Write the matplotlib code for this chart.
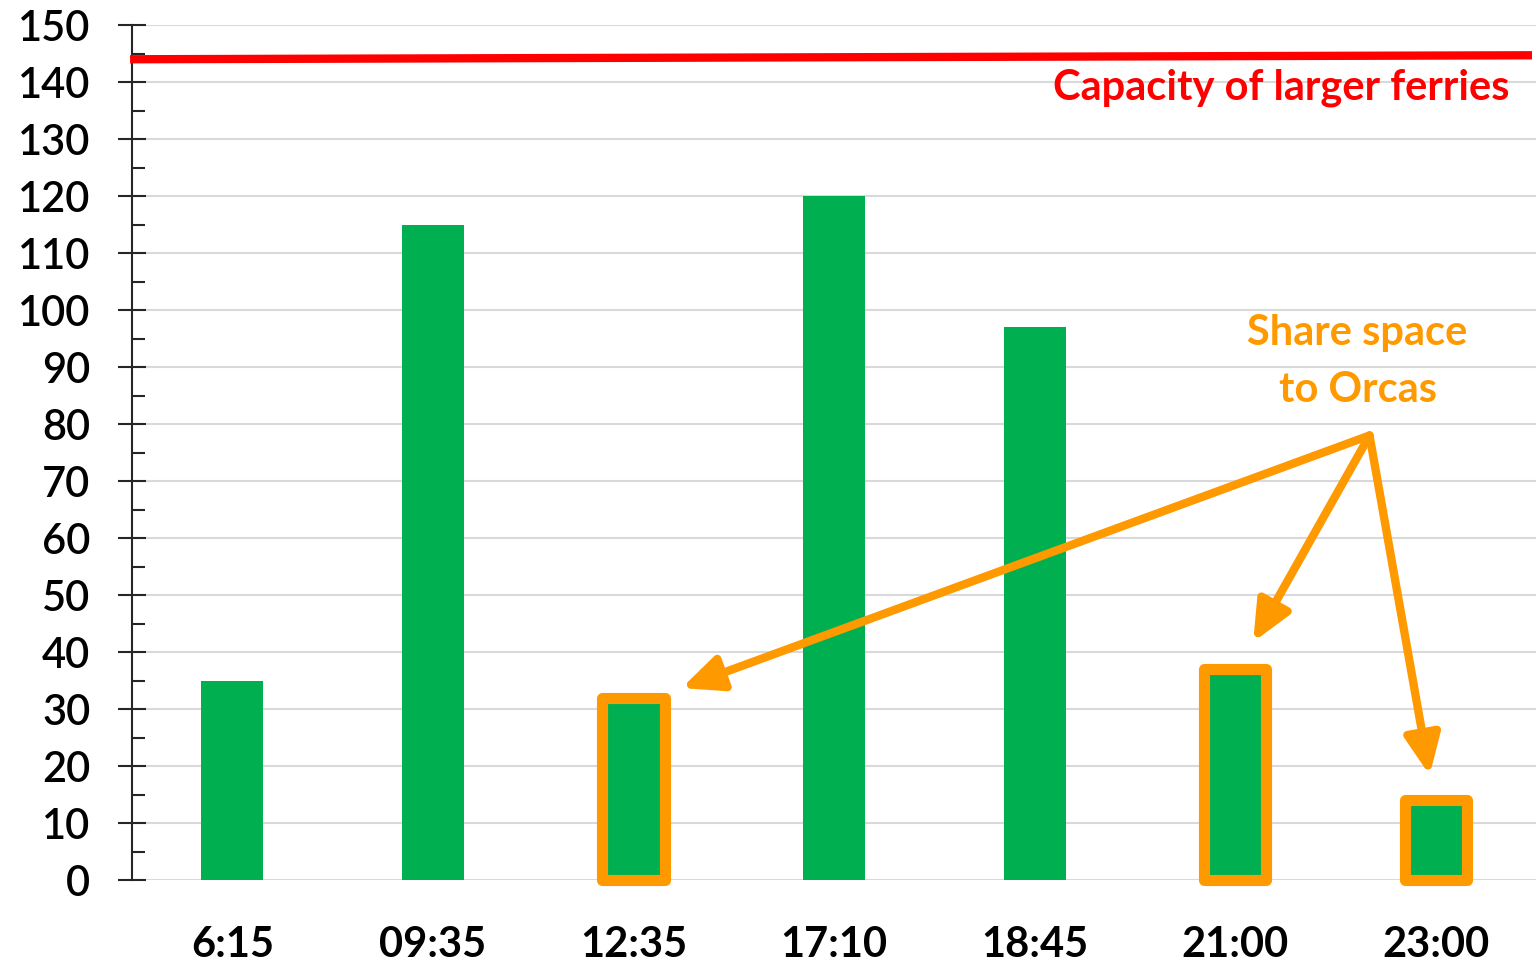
import matplotlib
matplotlib.use("Agg")
import matplotlib.pyplot as plt
from matplotlib.ticker import MultipleLocator

# sailing times and vehicle counts
times = ["6:15", "09:35", "12:35", "17:10", "18:45", "21:00", "23:00"]
vehicles = [35, 115, 32, 120, 97, 37, 14]
shared = ["12:35", "21:00", "23:00"]  # sailings that share space with Orcas
capacity_start = 144
capacity_end = 144.7

green = "#00B050"
orange = "#FF9900"
red = "#FF0000"

plt.rcParams["font.family"] = ["Lato", "DejaVu Sans"]

fig = plt.figure(figsize=(15.36, 9.64), dpi=100)
ax = fig.add_axes([0.086, 0.087, 0.914, 0.887])

x = list(range(len(times)))
bars = ax.bar(x, vehicles, width=0.31, color=green, zorder=2)
for b, t in zip(bars, times):
    if t in shared:
        b.set_edgecolor(orange)
        b.set_linewidth(8)
        b.set_joinstyle("round")
        b.set_clip_on(False)
        b.set_zorder(3)

# capacity line
ax.plot([-0.51, len(times) - 0.52], [capacity_start, capacity_end], color=red, lw=6,
        solid_capstyle="butt", clip_on=False, zorder=4)
ax.text(6.37, 139, "Capacity of larger ferries", color=red, fontsize=30,
        fontweight="bold", ha="right", va="center")

# arrows to the shared sailings
ax.text(5.61, 91, "Share space\nto Orcas", color=orange, fontsize=30, fontweight="bold",
        ha="center", va="center", linespacing=1.6)
src = (5.67, 78)
targets = [(2.24, 33.7), (5.09, 41.8), (5.97, 18.4)]
for tx, ty in targets:
    ax.annotate("", xy=(tx, ty), xytext=src,
                arrowprops=dict(arrowstyle="-|>,head_length=0.6,head_width=0.27", lw=6,
                                color=orange, mutation_scale=40, shrinkA=0, shrinkB=0),
                zorder=5)

ax.set_xlim(-0.5, len(times) - 0.5)
ax.set_ylim(0, 150)
ax.set_xticks(x)
ax.set_xticklabels(times, fontsize=30, fontweight="bold")
ax.tick_params(axis="x", length=0, pad=33)
ax.yaxis.set_major_locator(MultipleLocator(10))
ax.yaxis.set_minor_locator(MultipleLocator(5))
ax.tick_params(axis="y", which="major", direction="inout", length=20, width=1.5,
               labelsize=30, pad=20, color="#262626")
ax.tick_params(axis="y", which="minor", direction="in", length=9, width=1.5, color="#262626")
for lab in ax.get_yticklabels():
    lab.set_fontweight("semibold")

ax.grid(axis="y", color="#D9D9D9", lw=1.5, zorder=0)
ax.set_axisbelow(True)
for s in ["top", "right", "bottom"]:
    ax.spines[s].set_visible(False)
ax.spines["left"].set_color("#262626")
ax.spines["left"].set_linewidth(1.5)

fig.savefig("out.png", dpi=100)
